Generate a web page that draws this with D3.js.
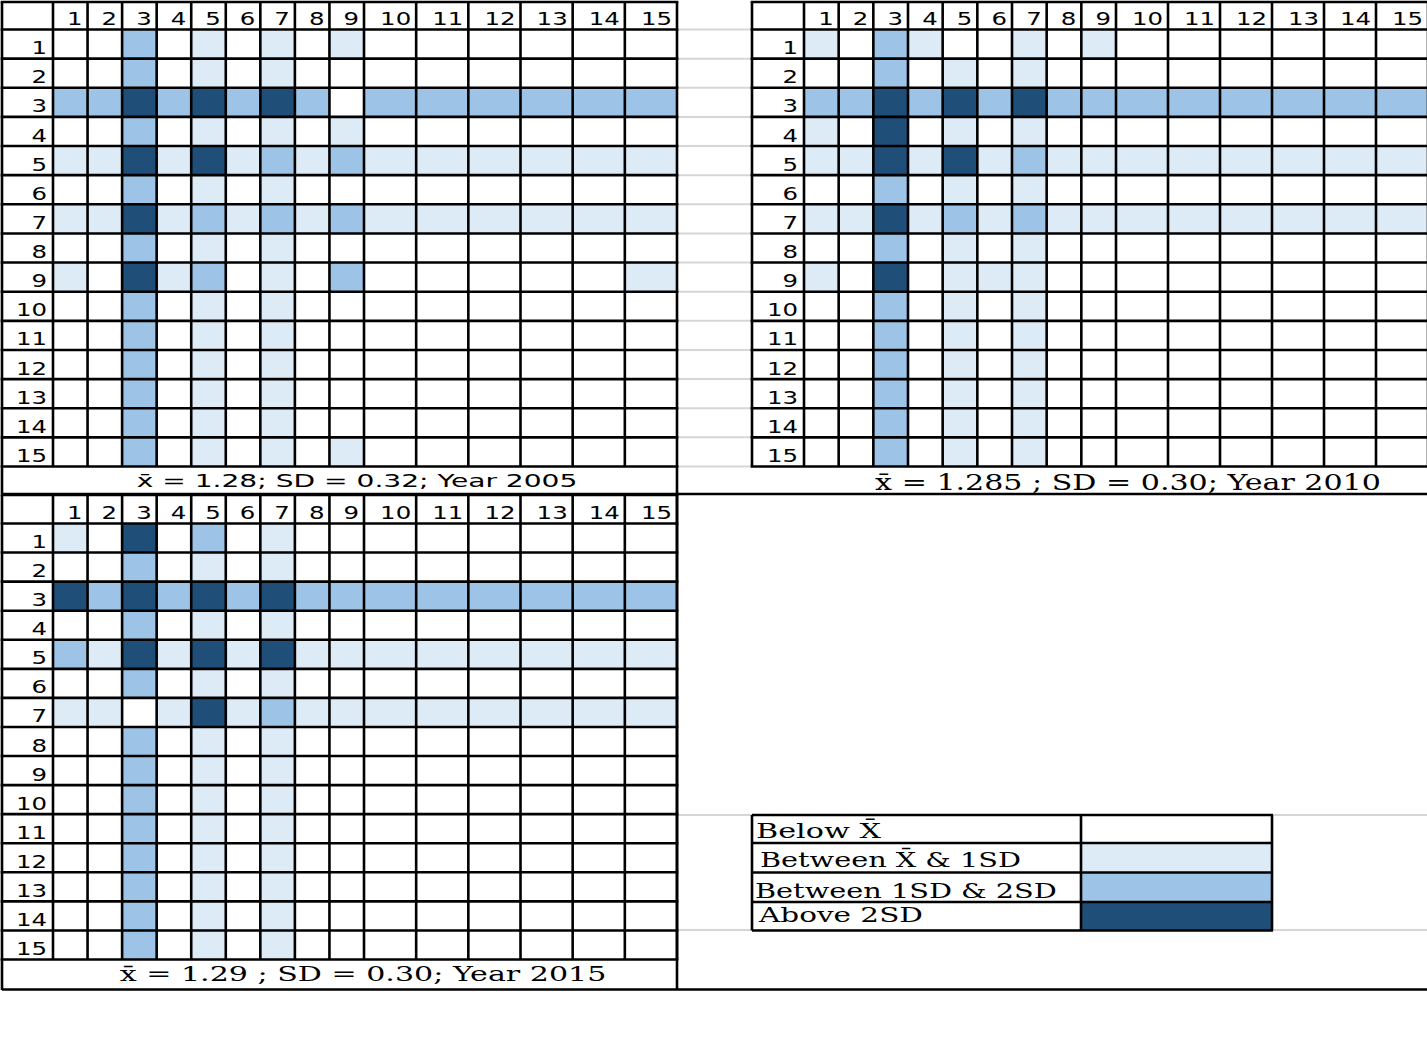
<!DOCTYPE html>
<html>
<head>
<meta charset="utf-8">
<script src="https://cdn.jsdelivr.net/npm/d3@7"></script>
<style>
  body { margin: 0; background: #fff; }
  svg { display: block; }
</style>
</head>
<body>
<div id="chart"></div>
<script>
// row / column labels of each 15x15 table
const rowLabels = ['1', '2', '3', '4', '5', '6', '7', '8', '9', '10', '11', '12', '13', '14', '15'];
const colLabels = ['1', '2', '3', '4', '5', '6', '7', '8', '9', '10', '11', '12', '13', '14', '15'];

// class of each cell: 0 below mean, 1 mean..1SD, 2 1SD..2SD, 3 above 2SD
const grid2005 = [
    [0,0,2,0,1,0,1,0,1,0,0,0,0,0,0],
    [0,0,2,0,1,0,1,0,0,0,0,0,0,0,0],
    [2,2,3,2,3,2,3,2,0,2,2,2,2,2,2],
    [0,0,2,0,1,0,1,0,1,0,0,0,0,0,0],
    [1,1,3,1,3,1,2,1,2,1,1,1,1,1,1],
    [0,0,2,0,1,0,1,0,0,0,0,0,0,0,0],
    [1,1,3,1,2,1,2,1,2,1,1,1,1,1,1],
    [0,0,2,0,1,0,1,0,0,0,0,0,0,0,0],
    [1,0,3,1,2,0,1,0,2,0,0,0,0,0,1],
    [0,0,2,0,1,0,1,0,0,0,0,0,0,0,0],
    [0,0,2,0,1,0,1,0,0,0,0,0,0,0,0],
    [0,0,2,0,1,0,1,0,0,0,0,0,0,0,0],
    [0,0,2,0,1,0,1,0,0,0,0,0,0,0,0],
    [0,0,2,0,1,0,1,0,0,0,0,0,0,0,0],
    [0,0,2,0,1,0,1,0,1,0,0,0,0,0,0]
];
const grid2010 = [
    [1,0,2,1,0,0,1,0,1,0,0,0,0,0,0],
    [0,0,2,0,1,0,1,0,0,0,0,0,0,0,0],
    [2,2,3,2,3,2,3,2,2,2,2,2,2,2,2],
    [1,0,3,0,1,0,1,0,0,0,0,0,0,0,0],
    [1,1,3,1,3,1,2,1,1,1,1,1,1,1,1],
    [0,0,2,0,1,0,1,0,0,0,0,0,0,0,0],
    [1,1,3,1,2,1,2,1,1,1,1,1,1,1,1],
    [0,0,2,0,1,0,1,0,0,0,0,0,0,0,0],
    [1,0,3,0,1,1,1,0,0,0,0,0,0,0,0],
    [0,0,2,0,1,0,1,0,0,0,0,0,0,0,0],
    [0,0,2,0,1,0,1,0,0,0,0,0,0,0,0],
    [0,0,2,0,1,0,1,0,0,0,0,0,0,0,0],
    [0,0,2,0,1,0,1,0,0,0,0,0,0,0,0],
    [0,0,2,0,1,0,1,0,0,0,0,0,0,0,0],
    [0,0,2,0,1,0,1,0,0,0,0,0,0,0,0]
];
const grid2015 = [
    [1,0,3,0,2,0,1,0,0,0,0,0,0,0,0],
    [0,0,2,0,1,0,1,0,0,0,0,0,0,0,0],
    [3,2,3,2,3,2,3,2,2,2,2,2,2,2,2],
    [0,0,2,0,1,0,1,0,0,0,0,0,0,0,0],
    [2,1,3,1,3,1,3,1,1,1,1,1,1,1,1],
    [0,0,2,0,1,0,1,0,0,0,0,0,0,0,0],
    [1,1,0,1,3,1,2,1,1,1,1,1,1,1,1],
    [0,0,2,0,1,0,1,0,0,0,0,0,0,0,0],
    [0,0,2,0,1,0,1,0,0,0,0,0,0,0,0],
    [0,0,2,0,1,0,1,0,0,0,0,0,0,0,0],
    [0,0,2,0,1,0,1,0,0,0,0,0,0,0,0],
    [0,0,2,0,1,0,1,0,0,0,0,0,0,0,0],
    [0,0,2,0,1,0,1,0,0,0,0,0,0,0,0],
    [0,0,2,0,1,0,1,0,0,0,0,0,0,0,0],
    [0,0,2,0,1,0,1,0,0,0,0,0,0,0,0]
];

const captions = [
    'x\u0304 = 1.28; SD = 0.32; Year 2005',
    'x\u0304 = 1.285 ; SD = 0.30; Year 2010',
    'x\u0304 = 1.29 ; SD = 0.30; Year 2015'
];
const levels = [0, 1, 2, 3];
const levelLabels = ['Below X\u0304', 'Between X\u0304 & 1SD', 'Between 1SD & 2SD', 'Above 2SD'];

const palette = ['#ffffff', '#ddebf7', '#9dc3e6', '#1f4e79'];
const color = d3.scaleOrdinal().domain(levels).range(palette);

const width = 1427, height = 1037;
const LINE = 2.6;
const SANS = '"DejaVu Sans", sans-serif';
const SERIF = '"DejaVu Serif", serif';

const svg = d3.select('#chart').append('svg')
    .attr('width', width)
    .attr('height', height);

// stretch a text horizontally so it covers the given width
function fitText(g, str, x, y, w, anchor, font, size) {
    const t = g.append('text')
        .attr('font-family', font)
        .attr('font-size', size)
        .attr('text-anchor', anchor)
        .attr('fill', '#000')
        .text(str);
    const nat = t.node().getComputedTextLength();
    t.attr('transform', `translate(${x},${y}) scale(${w / nat},1)`);
    return t;
}

// faint spreadsheet gridlines in the gutter between the top tables
const gutterY = d3.scaleLinear().domain([0, 15]).range([29.5, 466.5]);
svg.append('g').selectAll('line')
    .data(d3.range(0, 16))
    .enter().append('line')
    .attr('x1', 677).attr('x2', 752)
    .attr('y1', d => gutterY(d)).attr('y2', d => gutterY(d))
    .attr('stroke', '#d6d6d6').attr('stroke-width', 2);

svg.append('g').selectAll('line')
    .data([815, 930])
    .enter().append('line')
    .attr('x1', 677).attr('x2', width)
    .attr('y1', d => d).attr('y2', d => d)
    .attr('stroke', '#d6d6d6').attr('stroke-width', 2);

const panels = [
    { data: grid2005, caption: captions[0], labelLeft: 2, gridLeft: 53, col9: 364, right: 677,
      headerTop: 2, rowsTop: 29.5, rowsBottom: 466.5,
      cap: { x: 357, y: 487, w: 441, font: SANS, size: 18.5 } },
    { data: grid2010, caption: captions[1], labelLeft: 752, gridLeft: 804, col9: 1116, right: 1428,
      headerTop: 2, rowsTop: 29.5, rowsBottom: 466.5,
      cap: { x: 1128, y: 489.5, w: 506, font: SERIF, size: 22 } },
    { data: grid2015, caption: captions[2], labelLeft: 2, gridLeft: 53, col9: 364, right: 677,
      headerTop: 495, rowsTop: 523.5, rowsBottom: 959.5,
      cap: { x: 363, y: 981, w: 487, font: SERIF, size: 19.5 } }
];

panels.forEach(p => {
    const g = svg.append('g');

    // column i spans [x(i), x(i+1)]; first nine columns are narrower
    const x = d3.scaleLinear().domain([0, 9, 15]).range([p.gridLeft, p.col9, p.right]);
    const y = d3.scaleBand().domain(rowLabels).range([p.rowsTop, p.rowsBottom]);

    const cells = [];
    p.data.forEach((row, i) => row.forEach((v, j) => cells.push({ r: rowLabels[i], c: j, v })));

    g.selectAll('.cell')
        .data(cells)
        .enter().append('rect')
        .attr('class', 'cell')
        .attr('x', d => x(d.c))
        .attr('y', d => y(d.r))
        .attr('width', d => x(d.c + 1) - x(d.c))
        .attr('height', y.bandwidth())
        .attr('fill', d => color(d.v));

    // grid lines
    const vx = [p.labelLeft].concat(d3.range(0, 16).map(k => x(k)));
    g.selectAll('.vline')
        .data(vx)
        .enter().append('line')
        .attr('x1', d => d).attr('x2', d => d)
        .attr('y1', p.headerTop).attr('y2', p.rowsBottom)
        .attr('stroke', '#000').attr('stroke-width', LINE);

    const hy = [p.headerTop].concat(rowLabels.map(r => y(r)), [p.rowsBottom]);
    g.selectAll('.hline')
        .data(hy)
        .enter().append('line')
        .attr('x1', p.labelLeft - LINE / 2).attr('x2', p.right + LINE / 2)
        .attr('y1', d => d).attr('y2', d => d)
        .attr('stroke', '#000').attr('stroke-width', LINE);

    // column headers, right aligned like spreadsheet numbers
    colLabels.forEach((lab, j) => {
        g.append('text')
            .attr('font-family', SANS)
            .attr('font-size', 18.5)
            .attr('text-anchor', 'end')
            .attr('transform', `translate(${x(j + 1) - 5},${p.rowsTop - 5}) scale(1.32,1)`)
            .text(lab);
    });

    // row labels
    rowLabels.forEach(lab => {
        g.append('text')
            .attr('font-family', SANS)
            .attr('font-size', 18.5)
            .attr('text-anchor', 'end')
            .attr('transform', `translate(${p.gridLeft - 6},${y(lab) + y.bandwidth() - 4.5}) scale(1.32,1)`)
            .text(lab);
    });

    fitText(g, p.caption, p.cap.x, p.cap.y, p.cap.w, 'middle', p.cap.font, p.cap.size);
});

// frames around captions and the lower right block
const frame = svg.append('g')
    .attr('stroke', '#000').attr('stroke-width', LINE);
frame.append('line').attr('x1', 2).attr('x2', width).attr('y1', 494).attr('y2', 494);
frame.append('line').attr('x1', 2).attr('x2', width).attr('y1', 989.5).attr('y2', 989.5);
frame.append('line').attr('x1', 2).attr('x2', 2).attr('y1', 466).attr('y2', 494);
frame.append('line').attr('x1', 677).attr('x2', 677).attr('y1', 466).attr('y2', 990);
frame.append('line').attr('x1', 2).attr('x2', 2).attr('y1', 959).attr('y2', 990);

// legend table
const legend = svg.append('g');
const ly = d3.scaleLinear().domain([0, 1, 2, 3, 4]).range([815, 843, 872.5, 902, 930.5]);
const legendText = [
    { x: 756, y: 838, w: 125 },
    { x: 760, y: 867, w: 261 },
    { x: 755, y: 898, w: 302 },
    { x: 759, y: 922, w: 164 }
];

legend.selectAll('.swatch')
    .data(levels)
    .enter().append('rect')
    .attr('x', 1081)
    .attr('y', d => ly(d))
    .attr('width', 1272 - 1081)
    .attr('height', d => ly(d + 1) - ly(d))
    .attr('fill', d => color(d));

legend.selectAll('.lh')
    .data([0, 1, 2, 3, 4])
    .enter().append('line')
    .attr('x1', 752).attr('x2', 1273)
    .attr('y1', d => ly(d)).attr('y2', d => ly(d))
    .attr('stroke', '#000').attr('stroke-width', LINE);

legend.selectAll('.lv')
    .data([752, 1081, 1272])
    .enter().append('line')
    .attr('x1', d => d).attr('x2', d => d)
    .attr('y1', ly(0)).attr('y2', ly(4))
    .attr('stroke', '#000').attr('stroke-width', LINE);

levels.forEach((lv, i) => {
    const t = legendText[i];
    fitText(legend, levelLabels[lv], t.x, t.y, t.w, 'start', SERIF, 20);
});
</script>
</body>
</html>
